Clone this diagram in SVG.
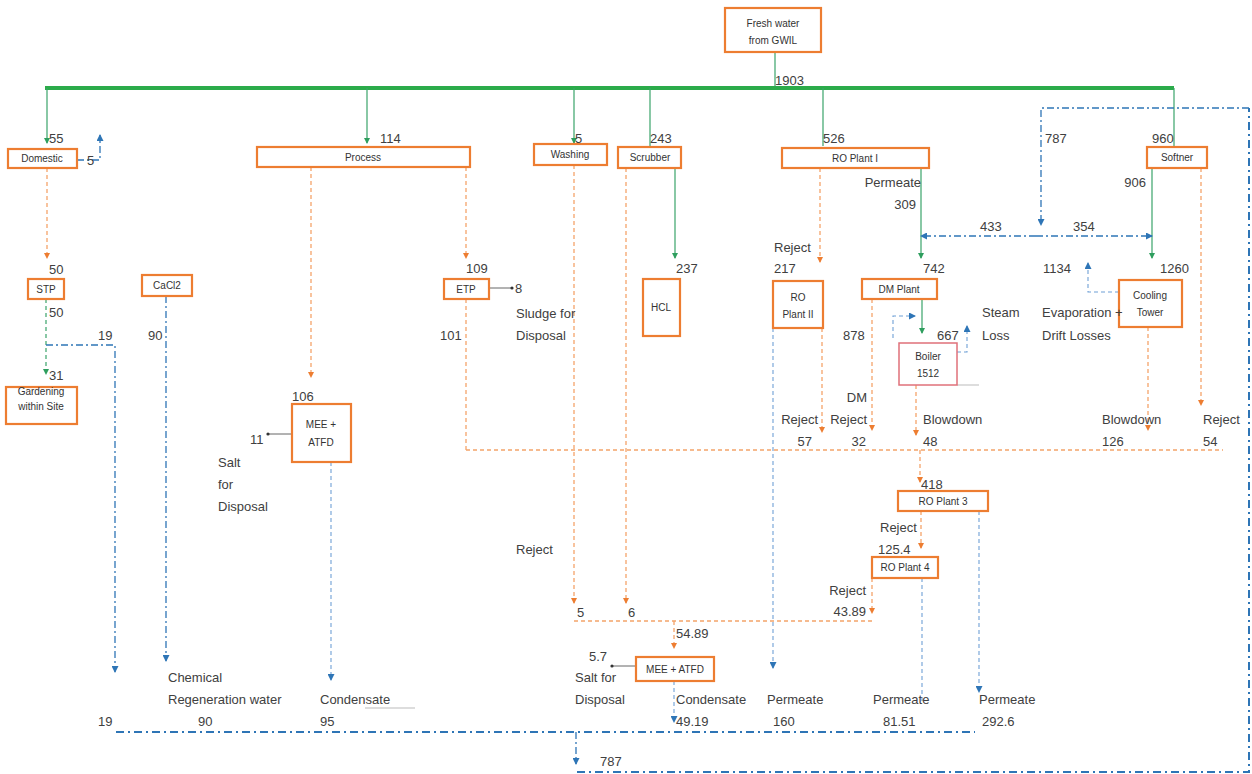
<svg xmlns="http://www.w3.org/2000/svg" width="1252" height="774" viewBox="0 0 1252 774">
<style>
.box{fill:#fff;stroke:#ed7d31;stroke-width:2.2}
.boiler{fill:#fff;stroke:#e0707a;stroke-width:1.5}
.bt{font-family:"Liberation Sans",Arial,sans-serif;font-size:10px;fill:#333;text-anchor:middle}
.lb{font-family:"Liberation Sans",Arial,sans-serif;font-size:13px;fill:#404040}
.e{text-anchor:end}
.g{fill:none;stroke:#3aa36a;stroke-width:1.2}
.gd{fill:none;stroke:#3aa36a;stroke-width:1.2;stroke-dasharray:4 3}
.bar{fill:none;stroke:#2bab4a;stroke-width:4}
.o{fill:none;stroke:#f4a46a;stroke-width:1.3;stroke-dasharray:4 3}
.b{fill:none;stroke:#2e75b6;stroke-width:1.3;stroke-dasharray:7 3 2 3}
.bb{fill:none;stroke:#2e75b6;stroke-width:2;stroke-dasharray:8 4 2 4}
.bl{fill:none;stroke:#6fa0d6;stroke-width:1.1;stroke-dasharray:4 3}
.gr{fill:none;stroke:#666;stroke-width:1}
.lg{fill:none;stroke:#bbb;stroke-width:1}
</style>
<defs>
<marker id="ag" markerWidth="6" markerHeight="6" refX="5" refY="3" orient="auto" markerUnits="userSpaceOnUse"><path d="M0,0 L6,3 L0,6 z" fill="#2e9e5e"/></marker>
<marker id="ao" markerWidth="6" markerHeight="6" refX="5" refY="3" orient="auto" markerUnits="userSpaceOnUse"><path d="M0,0 L6,3 L0,6 z" fill="#ed7d31"/></marker>
<marker id="ab" markerWidth="7" markerHeight="7" refX="6" refY="3.5" orient="auto" markerUnits="userSpaceOnUse"><path d="M0,0 L7,3.5 L0,7 z" fill="#2e75b6"/></marker>
<marker id="ad" markerWidth="4" markerHeight="4" refX="2" refY="2" orient="auto" markerUnits="userSpaceOnUse"><circle cx="2" cy="2" r="1.6" fill="#333"/></marker>
</defs>

<g id="connectors">
<!-- green -->
<path class="g" d="M775,52 V88"/>
<path class="bar" d="M45,88 H1174"/>
<path class="g" d="M47,88 V143" marker-end="url(#ag)"/>
<path class="g" d="M367,88 V143" marker-end="url(#ag)"/>
<path class="g" d="M574,88 V143" marker-end="url(#ag)"/>
<path class="g" d="M650,88 V146"/>
<path class="g" d="M823,88 V146"/>
<path class="g" d="M1174,88 V146"/>
<path class="g" d="M921,168 V258" marker-end="url(#ag)"/>
<path class="g" d="M1152,168 V258" marker-end="url(#ag)"/>
<path class="g" d="M675,168 V258" marker-end="url(#ag)"/>
<path class="g" d="M922,299 V333" marker-end="url(#ag)"/>
<path class="gd" d="M46,299 V374" marker-end="url(#ag)"/>
<!-- orange -->
<path class="o" d="M47,168 V258" marker-end="url(#ao)"/>
<path class="o" d="M311,167 V377" marker-end="url(#ao)"/>
<path class="o" d="M466,167 V258" marker-end="url(#ao)"/>
<path class="o" d="M574,165 V603" marker-end="url(#ao)"/>
<path class="o" d="M626,168 V603" marker-end="url(#ao)"/>
<path class="o" d="M820,168 V262" marker-end="url(#ao)"/>
<path class="o" d="M1201,168 V405" marker-end="url(#ao)"/>
<path class="o" d="M1148,327 V430" marker-end="url(#ao)"/>
<path class="o" d="M822,328 V432" marker-end="url(#ao)"/>
<path class="o" d="M872,299 V430" marker-end="url(#ao)"/>
<path class="o" d="M916,385 V435" marker-end="url(#ao)"/>
<path class="o" d="M466,299 V450"/>
<path class="o" d="M466,450 H1223"/>
<path class="o" d="M920,450 V482" marker-end="url(#ao)"/>
<path class="o" d="M921,511 V548" marker-end="url(#ao)"/>
<path class="o" d="M872,578 V613" marker-end="url(#ao)"/>
<path class="o" d="M574,621 H872"/>
<path class="o" d="M674,621 V648" marker-end="url(#ao)"/>
<!-- blue -->
<path class="b" d="M77,160 H100 V135" marker-end="url(#ab)"/>
<path class="b" d="M46,345 H115 V672" marker-end="url(#ab)"/>
<path class="b" d="M166,296 V661" marker-end="url(#ab)"/>
<path class="bl" d="M331,462 V680" marker-end="url(#ab)"/>
<path class="bl" d="M674,681 V722" marker-end="url(#ab)"/>
<path class="bl" d="M773,328 V668" marker-end="url(#ab)"/>
<path class="bl" d="M922,578 V703"/>
<path class="bl" d="M979,511 V692" marker-end="url(#ab)"/>
<path class="b" d="M1036,236 H921" marker-end="url(#ab)"/>
<path class="b" d="M1036,236 H1152" marker-end="url(#ab)"/>
<path class="b" d="M1249,108 H1041 V225" marker-end="url(#ab)"/>
<path class="bb" d="M577,772 H1249 V108"/>
<path class="bb" d="M116,732 H975"/>
<path class="b" d="M576,732 V764" marker-end="url(#ab)"/>
<path class="bl" d="M957,352 H967 V326" marker-end="url(#ab)"/>
<path class="bl" d="M1119,292 H1088 V263" marker-end="url(#ab)"/>
<path class="bl" d="M893,338 V316 H915" marker-end="url(#ab)"/>
<!-- gray -->
<path class="gr" d="M489,288 H512" marker-end="url(#ad)"/>
<path class="gr" d="M292,434 H268" marker-end="url(#ad)"/>
<path class="gr" d="M636,666 H612" marker-end="url(#ad)"/>
<path class="lg" d="M957,385 H979"/>
<path class="lg" d="M365,708 H415"/>
</g>

<g id="fresh"><rect class="box" x="725" y="8" width="96" height="44"/><text class="bt" x="773" y="27">Fresh water</text><text class="bt" x="773" y="44">from GWIL</text></g>
<g id="domestic"><rect class="box" x="8" y="149" width="69" height="19"/><text class="bt" x="42" y="162">Domestic</text></g>
<g id="process"><rect class="box" x="257" y="147" width="213" height="20"/><text class="bt" x="363" y="161">Process</text></g>
<g id="washing"><rect class="box" x="534" y="144" width="73" height="21"/><text class="bt" x="570" y="158">Washing</text></g>
<g id="scrubber"><rect class="box" x="618" y="147" width="63" height="21"/><text class="bt" x="650" y="161">Scrubber</text></g>
<g id="ro1"><rect class="box" x="782" y="148" width="147" height="20"/><text class="bt" x="855" y="162">RO Plant I</text></g>
<g id="softner"><rect class="box" x="1147" y="147" width="60" height="21"/><text class="bt" x="1177" y="161">Softner</text></g>
<g id="stp"><rect class="box" x="28" y="279" width="36" height="20"/><text class="bt" x="46" y="293">STP</text></g>
<g id="cacl2"><rect class="box" x="142" y="275" width="50" height="21"/><text class="bt" x="167" y="289">CaCl2</text></g>
<g id="gardening"><rect class="box" x="6" y="387" width="71" height="37"/><text class="bt" x="41" y="395">Gardening</text><text class="bt" x="41" y="410">within Site</text></g>
<g id="etp"><rect class="box" x="444" y="279" width="45" height="20"/><text class="bt" x="466" y="293">ETP</text></g>
<g id="hcl"><rect class="box" x="643" y="279" width="37" height="57"/><text class="bt" x="661" y="311">HCL</text></g>
<g id="ro2"><rect class="box" x="773" y="281" width="50" height="47"/><text class="bt" x="798" y="301">RO</text><text class="bt" x="798" y="318">Plant II</text></g>
<g id="dm"><rect class="box" x="862" y="279" width="75" height="20"/><text class="bt" x="899" y="293">DM Plant</text></g>
<g id="boiler"><rect class="boiler" x="899" y="343" width="58" height="42"/><text class="bt" x="928" y="360">Boiler</text><text class="bt" x="928" y="377">1512</text></g>
<g id="cooling"><rect class="box" x="1119" y="280" width="63" height="47"/><text class="bt" x="1150" y="299">Cooling</text><text class="bt" x="1150" y="316">Tower</text></g>
<g id="mee1"><rect class="box" x="292" y="404" width="59" height="58"/><text class="bt" x="321" y="428">MEE +</text><text class="bt" x="321" y="446">ATFD</text></g>
<g id="ro3"><rect class="box" x="898" y="491" width="90" height="20"/><text class="bt" x="943" y="505">RO Plant 3</text></g>
<g id="ro4"><rect class="box" x="872" y="557" width="66" height="21"/><text class="bt" x="905" y="571">RO Plant 4</text></g>
<g id="mee2"><rect class="box" x="636" y="657" width="78" height="24"/><text class="bt" x="675" y="673">MEE + ATFD</text></g>

<g id="labels">
<text class="lb" x="775" y="85">1903</text>
<text class="lb" x="49" y="143">55</text>
<text class="lb" x="87" y="165">5</text>
<text class="lb" x="380" y="143">114</text>
<text class="lb" x="575" y="143">5</text>
<text class="lb" x="650" y="143">243</text>
<text class="lb" x="823" y="143">526</text>
<text class="lb" x="1045" y="143">787</text>
<text class="lb" x="1152" y="143">960</text>
<text class="lb e" x="921" y="187">Permeate</text>
<text class="lb e" x="916" y="209">309</text>
<text class="lb e" x="1146" y="187">906</text>
<text class="lb" x="980" y="231">433</text>
<text class="lb" x="1073" y="231">354</text>
<text class="lb" x="774" y="252">Reject</text>
<text class="lb" x="774" y="273">217</text>
<text class="lb" x="49" y="274">50</text>
<text class="lb" x="49" y="317">50</text>
<text class="lb" x="98" y="340">19</text>
<text class="lb" x="148" y="340">90</text>
<text class="lb" x="49" y="380">31</text>
<text class="lb" x="466" y="273">109</text>
<text class="lb" x="515" y="293">8</text>
<text class="lb" x="516" y="318">Sludge for</text>
<text class="lb" x="516" y="340">Disposal</text>
<text class="lb" x="440" y="340">101</text>
<text class="lb" x="676" y="273">237</text>
<text class="lb" x="923" y="273">742</text>
<text class="lb" x="1043" y="273">1134</text>
<text class="lb" x="1160" y="273">1260</text>
<text class="lb" x="843" y="340">878</text>
<text class="lb" x="937" y="340">667</text>
<text class="lb" x="982" y="317">Steam</text>
<text class="lb" x="982" y="340">Loss</text>
<text class="lb" x="1042" y="317">Evaporation +</text>
<text class="lb" x="1042" y="340">Drift Losses</text>
<text class="lb" x="292" y="401">106</text>
<text class="lb" x="250" y="444">11</text>
<text class="lb" x="218" y="467">Salt</text>
<text class="lb" x="218" y="489">for</text>
<text class="lb" x="218" y="511">Disposal</text>
<text class="lb e" x="867" y="402">DM</text>
<text class="lb e" x="867" y="424">Reject</text>
<text class="lb e" x="866" y="446">32</text>
<text class="lb e" x="818" y="424">Reject</text>
<text class="lb e" x="812" y="446">57</text>
<text class="lb" x="923" y="424">Blowdown</text>
<text class="lb" x="923" y="446">48</text>
<text class="lb" x="1102" y="424">Blowdown</text>
<text class="lb" x="1102" y="446">126</text>
<text class="lb" x="1203" y="424">Reject</text>
<text class="lb" x="1203" y="446">54</text>
<text class="lb" x="921" y="489">418</text>
<text class="lb" x="880" y="532">Reject</text>
<text class="lb" x="878" y="554">125.4</text>
<text class="lb e" x="866" y="595">Reject</text>
<text class="lb e" x="866" y="616">43.89</text>
<text class="lb" x="516" y="554">Reject</text>
<text class="lb" x="577" y="617">5</text>
<text class="lb" x="628" y="617">6</text>
<text class="lb" x="676" y="638">54.89</text>
<text class="lb" x="589" y="661">5.7</text>
<text class="lb" x="575" y="682">Salt for</text>
<text class="lb" x="575" y="704">Disposal</text>
<text class="lb" x="168" y="682">Chemical</text>
<text class="lb" x="168" y="704">Regeneration water</text>
<text class="lb" x="198" y="726">90</text>
<text class="lb" x="98" y="726">19</text>
<text class="lb" x="320" y="704">Condensate</text>
<text class="lb" x="320" y="726">95</text>
<text class="lb" x="676" y="704">Condensate</text>
<text class="lb" x="676" y="726">49.19</text>
<text class="lb" x="767" y="704">Permeate</text>
<text class="lb" x="773" y="726">160</text>
<text class="lb" x="873" y="704">Permeate</text>
<text class="lb" x="883" y="726">81.51</text>
<text class="lb" x="979" y="704">Permeate</text>
<text class="lb" x="982" y="726">292.6</text>
<text class="lb" x="600" y="766">787</text>
</g>
</svg>
